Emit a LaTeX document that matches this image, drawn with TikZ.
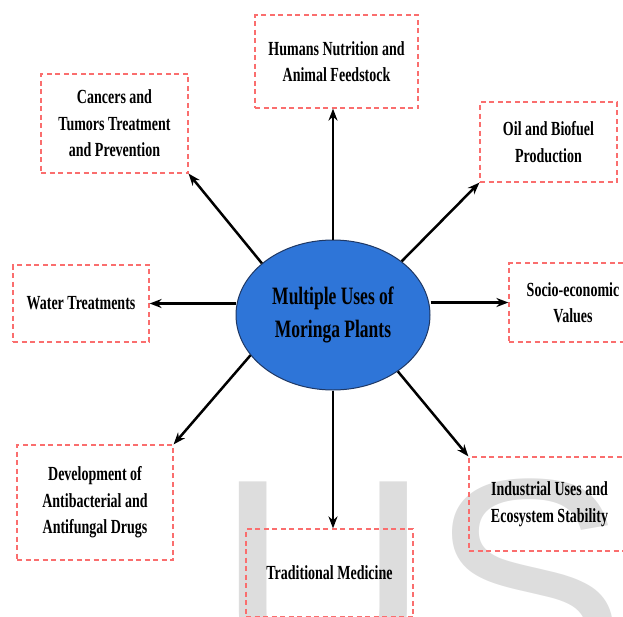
\documentclass[tikz,border=0pt]{standalone}
\usepackage{fontspec}
\setmainfont{Liberation Serif}[FakeStretch=0.7]
\newfontfamily\wmfont{Liberation Sans}
\usetikzlibrary{shapes.geometric,arrows.meta}
\definecolor{hubblue}{RGB}{46,117,216}
\definecolor{hubline}{RGB}{31,56,100}
\definecolor{boxred}{RGB}{250,110,110}
\definecolor{wmgray}{RGB}{221,221,221}

\begin{document}
\begin{tikzpicture}[x=1pt,y=-1pt,
  usebox/.style={draw=boxred,line width=1.2pt,dash pattern=on 5pt off 3.5pt,align=center,inner sep=0pt,font=\bfseries\fontsize{20}{26.5}\selectfont},
  hub/.style={ellipse,draw=hubline,line width=1pt,fill=hubblue,minimum width=194pt,minimum height=150pt,inner sep=0pt,align=center,font=\bfseries\fontsize{25}{33}\selectfont},
  arr/.style={line width=2.5pt,-{Stealth[length=12pt,width=9pt]}}]
 \useasboundingbox (0,0) rectangle (623,616);
 \clip (0,0) rectangle (623,616);
 \node[anchor=base west,text=wmgray,inner sep=0pt,font=\wmfont\fontsize{296}{296}\selectfont] (wm) at (216,685) {US};

 \node[hub] (hub) at (333,315) {Multiple Uses of\\Moringa Plants};

 \node[usebox,minimum width=163pt,minimum height=93pt] (hum) at (336.5,61.5) {Humans Nutrition and\\Animal Feedstock};
 \node[usebox,minimum width=147pt,minimum height=99pt] (cancer) at (114.5,123.5) {Cancers and\\Tumors Treatment\\and Prevention};
 \node[usebox,minimum width=137pt,minimum height=80pt] (oil) at (548.5,142) {Oil and Biofuel\\Production};
 \node[usebox,minimum width=136pt,minimum height=77pt] (water) at (81,303.5) {Water Treatments};
 \node[usebox,minimum width=128pt,minimum height=79pt] (socio) at (573,302.5) {Socio-economic\\Values};
 \node[usebox,minimum width=156pt,minimum height=115pt] (dev) at (95,502.5) {Development of\\Antibacterial and\\Antifungal Drugs};
 \node[usebox,minimum width=167pt,minimum height=88pt] (trad) at (329.5,573) {Traditional Medicine};
 \node[usebox,minimum width=161pt,minimum height=94pt] (ind) at (549.5,504) {Industrial Uses and\\Ecosystem Stability};

 \draw[arr] (hub.north) -- (hub.north |- hum.south);
 \draw[arr] (hub.south) -- (hub.south |- trad.north);
 \draw[arr] (hub.west |- water.east) -- (water.east);
 \draw[arr] (hub.east |- socio.west) -- (socio.west);
 \draw[arr] (hub.144) -- (cancer.south east);
 \draw[arr] (hub.38) -- (oil.south west);
 \draw[arr] (hub.206) -- (dev.north east);
 \draw[arr] (hub.319) -- (ind.north west);
\end{tikzpicture}
\end{document}
